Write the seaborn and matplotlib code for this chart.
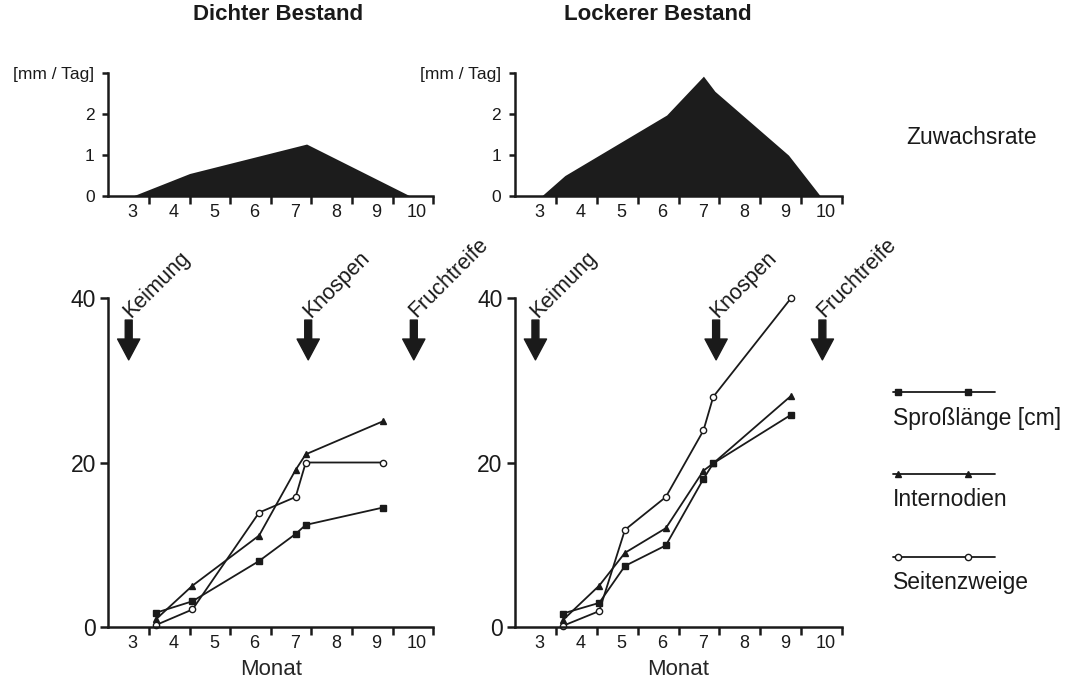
"""
Wachstum von Sproßlänge, Internodien und Seitenzweigen in dichtem
und lockerem Bestand, mit Zuwachsrate (mm / Tag) darüber.
"""

import matplotlib
matplotlib.use("Agg")
import matplotlib.pyplot as plt
import seaborn as sns

# Zuwachsrate [mm / Tag] against month
rate_months_dense = [3.1, 4.5, 7.38, 9.93]
rate_dense = [0, 0.55, 1.27, 0]
rate_months_loose = [3.15, 3.72, 6.21, 7.11, 7.39, 9.19, 9.97]
rate_loose = [0, 0.5, 1.98, 2.93, 2.56, 1.0, 0]

# growth curves, dense stand
months_dense = [3.67, 4.57, 6.21, 7.11, 7.36, 9.25]
spross_dense = [1.7, 3.1, 8.0, 11.3, 12.4, 14.5]
intern_dense = [0.9, 5.0, 11.1, 19.1, 21.0, 25.0]
seiten_dense = [0.2, 2.1, 13.9, 15.8, 20.0, 20.0]

# growth curves, loose stand
months_loose = [3.67, 4.56, 5.19, 6.19, 7.11, 7.35, 9.25]
spross_loose = [1.6, 2.9, 7.4, 9.9, 18.0, 19.9, 25.8]
intern_loose = [0.8, 5.0, 9.0, 12.0, 19.0, 19.9, 28.1]
seiten_loose = [0.1, 1.9, 11.8, 15.8, 23.9, 28.0, 40.0]

month_labels = [3, 4, 5, 6, 7, 8, 9, 10]
events = ["Keimung", "Knospen", "Fruchtreife"]
event_months = [3.0, 7.42, 10.02]
series_names = ["Sproßlänge [cm]", "Internodien", "Seitenzweige"]
titles = ["Dichter Bestand", "Lockerer Bestand"]

SERIES_STYLE = [("s", "k"), ("^", "k"), ("o", "white")]
W, H = 1066, 687

sns.set_theme(style="ticks")
plt.rcParams["font.family"] = ["Liberation Sans", "DejaVu Sans"]
plt.rcParams["text.color"] = "k"
plt.rcParams["xtick.color"] = "k"
plt.rcParams["ytick.color"] = "k"


def month_axis(ax):
    ax.set_xlim(2.5, 10.5)
    # tick marks sit between months, labels in the middle of each month
    ax.set_xticks([m + 0.5 for m in month_labels])
    ax.set_xticklabels([])
    ax.set_xticks([m + 0.1 for m in month_labels], minor=True)
    ax.set_xticklabels([str(m) for m in month_labels], minor=True)
    ax.tick_params(axis="x", which="major", direction="out", length=6, width=1.8)
    ax.tick_params(axis="x", which="minor", length=0, pad=6, labelsize=13)
    sns.despine(ax=ax)
    for side in ("left", "bottom"):
        ax.spines[side].set_linewidth(1.8)
        ax.spines[side].set_color("k")


def rate_panel(ax, months, rate):
    ax.fill_between(months, rate, color="#1c1c1c", lw=0)
    month_axis(ax)
    ax.set_ylim(0, 3)
    ax.set_yticks([0, 1, 2, 3])
    ax.set_yticklabels(["0", "1", "2", "[mm / Tag]"])
    ax.tick_params(axis="y", direction="out", length=4, width=1.8, pad=6, labelsize=12.5)


def growth_panel(ax, months, series):
    for vals, (mk, fc) in zip(series, SERIES_STYLE):
        sns.lineplot(x=months, y=vals, ax=ax, color="k", lw=1.3, marker=mk,
                     markersize=4.5, markerfacecolor=fc, markeredgecolor="k",
                     markeredgewidth=1, estimator=None, legend=False, clip_on=False)
    month_axis(ax)
    ax.set_ylim(0, 40)
    ax.set_yticks([0, 20, 40])
    ax.tick_params(axis="y", direction="out", length=6, width=1.8, pad=3, labelsize=16.5)
    ax.set_xlabel("Monat", fontsize=16, labelpad=5)
    ax.set_ylabel("")
    for name, xm in zip(events, event_months):
        ax.annotate("", xy=(xm, 32.5), xytext=(xm, 37.35), annotation_clip=False,
                    arrowprops=dict(facecolor="k", edgecolor="k", width=5,
                                    headwidth=16, headlength=15, shrink=0))
        ax.text(xm + 0.05, 37.6, name, rotation=45, rotation_mode="anchor",
                ha="left", va="baseline", fontsize=15.5)


fig = plt.figure(figsize=(W / 100, H / 100), dpi=100)

top_b, top_h = 1 - 196 / H, 122.7 / H
bot_b, bot_h = 1 - 626.7 / H, 328.4 / H
lefts = [108.4 / W, 515 / W]
widths = [324.9 / W, 327 / W]

ax_rd = fig.add_axes([lefts[0], top_b, widths[0], top_h])
ax_rl = fig.add_axes([lefts[1], top_b, widths[1], top_h])
ax_gd = fig.add_axes([lefts[0], bot_b, widths[0], bot_h])
ax_gl = fig.add_axes([lefts[1], bot_b, widths[1], bot_h])

rate_panel(ax_rd, rate_months_dense, rate_dense)
rate_panel(ax_rl, rate_months_loose, rate_loose)
growth_panel(ax_gd, months_dense, [spross_dense, intern_dense, seiten_dense])
growth_panel(ax_gl, months_loose, [spross_loose, intern_loose, seiten_loose])

for title, cx in zip(titles, [278, 658]):
    fig.text(cx / W, 1 - 15 / H, title, ha="center", va="center",
             fontsize=16, fontweight="bold")

fig.text(906 / W, 1 - 137 / H, "Zuwachsrate", ha="left", va="center", fontsize=16.4)

# legend: sample line above each name
lax = fig.add_axes([0, 0, 1, 1])
lax.set_xlim(0, W)
lax.set_ylim(H, 0)
lax.set_axis_off()
for name, (mk, fc), ly in zip(series_names, SERIES_STYLE, [392, 474, 557]):
    lax.plot([893, 995], [ly, ly], color="k", lw=1.3)
    lax.plot([898, 968], [ly, ly], ls="none", marker=mk, markersize=4.5,
             markerfacecolor=fc, markeredgecolor="k", markeredgewidth=1)
    lax.text(893, ly + 26, name, ha="left", va="center", fontsize=16.5)

fig.savefig("out.png", dpi=100)
plt.close(fig)
